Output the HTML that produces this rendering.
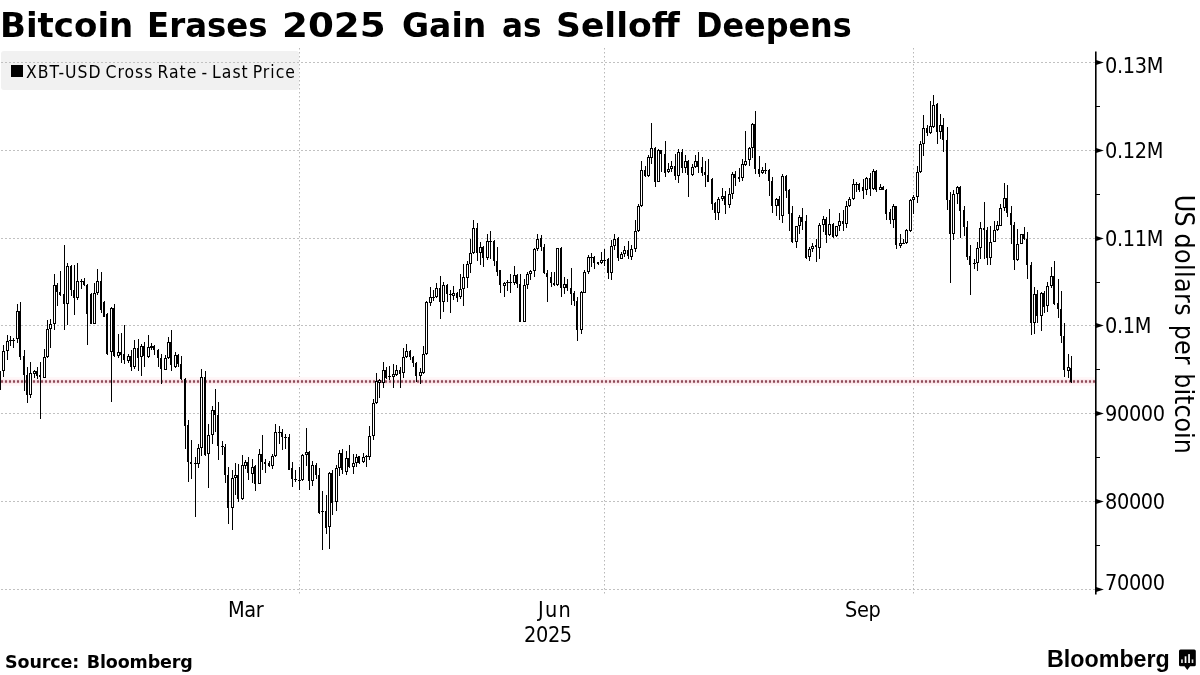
<!DOCTYPE html>
<html lang="en"><head><meta charset="utf-8"><title>Bitcoin Erases 2025 Gain as Selloff Deepens</title>
<style>
html,body{margin:0;padding:0;background:#fff;}
body{width:1200px;height:675px;overflow:hidden;position:relative;font-family:"DejaVu Sans","Liberation Sans",sans-serif;color:#000;}
#title{position:absolute;left:0;top:5px;width:1200px;height:40px;font-size:34.3px;font-weight:bold;white-space:nowrap;line-height:40px;margin:0;}
#title span{position:absolute;top:0;transform-origin:0 50%;display:block;}
#legend{position:absolute;left:1px;top:51px;width:298px;height:39px;background:#f1f1f1;border-radius:3px;}
#legend .sw{position:absolute;left:10px;top:14px;width:12px;height:12px;background:#000;}
#legend .tx{position:absolute;left:25px;top:9px;font-size:17.4px;line-height:24px;white-space:nowrap;color:#000;font-family:"DejaVu Sans Condensed","DejaVu Sans",sans-serif;letter-spacing:1px;word-spacing:-1.9px;}
#source{position:absolute;left:5px;top:651.5px;font-size:17.5px;font-weight:bold;line-height:20px;white-space:nowrap;word-spacing:1.6px;letter-spacing:-0.12px;}
#brand{position:absolute;left:1047.1px;top:646.1px;font-size:24.2px;font-weight:bold;line-height:26px;white-space:nowrap;font-family:"Liberation Sans",sans-serif;transform-origin:0 50%;transform:scaleX(0.962);}
svg{position:absolute;left:0;top:0;}
svg text{font-family:"DejaVu Sans Condensed","DejaVu Sans",sans-serif;fill:#000;}
</style></head><body>
<div id="legend"><span class="sw"></span><span class="tx">XBT-USD Cross Rate - Last Price</span></div>
<svg width="1200" height="675" viewBox="0 0 1200 675">
<g stroke="#c1c1c1" stroke-width="1" fill="none">
<g stroke-dasharray="2 2" shape-rendering="crispEdges"><line x1="1" y1="62.5" x2="1095" y2="62.5"/><line x1="1" y1="150.5" x2="1095" y2="150.5"/><line x1="1" y1="238.5" x2="1095" y2="238.5"/><line x1="1" y1="325.5" x2="1095" y2="325.5"/><line x1="1" y1="413.5" x2="1095" y2="413.5"/><line x1="1" y1="501.5" x2="1095" y2="501.5"/><line x1="1" y1="589.5" x2="1095" y2="589.5"/></g>
<g stroke-dasharray="1.5 2.5" stroke="#b8b8b8"><line x1="299.5" y1="48" x2="299.5" y2="594"/><line x1="604.5" y1="48" x2="604.5" y2="594"/><line x1="913.5" y1="48" x2="913.5" y2="594"/></g>
</g>
<rect x="0" y="377" width="1095" height="9" fill="#fff7f8"/>
<rect x="0" y="379" width="1095" height="5" fill="#fdecef"/>
<line x1="0.9" y1="381.4" x2="1095" y2="381.4" stroke="#8e4a58" stroke-width="2.5" stroke-dasharray="2.2 1.8"/>
<g shape-rendering="crispEdges" fill="#000">
<rect x="0" y="371" width="1" height="19"/><rect x="3" y="345" width="1" height="32"/><rect x="7" y="335" width="1" height="25"/><rect x="10" y="336" width="1" height="10"/><rect x="13" y="338" width="1" height="10"/><rect x="17" y="304" width="1" height="39"/><rect x="20" y="302" width="1" height="58"/><rect x="24" y="350" width="1" height="41"/><rect x="27" y="367" width="1" height="36"/><rect x="30" y="362" width="1" height="36"/><rect x="34" y="370" width="1" height="8"/><rect x="37" y="367" width="1" height="12"/><rect x="40" y="362" width="1" height="57"/><rect x="44" y="349" width="1" height="29"/><rect x="47" y="320" width="1" height="38"/><rect x="50" y="319" width="1" height="29"/><rect x="54" y="274" width="1" height="56"/><rect x="57" y="283" width="1" height="23"/><rect x="60" y="271" width="1" height="25"/><rect x="64" y="245" width="1" height="85"/><rect x="67" y="263" width="1" height="62"/><rect x="71" y="265" width="1" height="31"/><rect x="74" y="265" width="1" height="50"/><rect x="77" y="263" width="1" height="37"/><rect x="81" y="279" width="1" height="10"/><rect x="84" y="278" width="1" height="8"/><rect x="87" y="284" width="1" height="61"/><rect x="91" y="293" width="1" height="31"/><rect x="94" y="283" width="1" height="41"/><rect x="97" y="269" width="1" height="26"/><rect x="101" y="272" width="1" height="41"/><rect x="104" y="301" width="1" height="16"/><rect x="107" y="313" width="1" height="42"/><rect x="111" y="307" width="1" height="95"/><rect x="114" y="304" width="1" height="53"/><rect x="118" y="334" width="1" height="24"/><rect x="121" y="333" width="1" height="30"/><rect x="124" y="325" width="1" height="39"/><rect x="128" y="354" width="1" height="9"/><rect x="131" y="350" width="1" height="21"/><rect x="134" y="340" width="1" height="29"/><rect x="138" y="339" width="1" height="32"/><rect x="141" y="344" width="1" height="32"/><rect x="144" y="342" width="1" height="25"/><rect x="148" y="335" width="1" height="23"/><rect x="151" y="343" width="1" height="7"/><rect x="154" y="345" width="1" height="10"/><rect x="158" y="349" width="1" height="18"/><rect x="161" y="354" width="1" height="30"/><rect x="165" y="355" width="1" height="15"/><rect x="168" y="337" width="1" height="22"/><rect x="171" y="330" width="1" height="41"/><rect x="175" y="352" width="1" height="16"/><rect x="178" y="354" width="1" height="13"/><rect x="181" y="356" width="1" height="24"/><rect x="185" y="378" width="1" height="71"/><rect x="188" y="420" width="1" height="62"/><rect x="191" y="440" width="1" height="39"/><rect x="195" y="457" width="1" height="60"/><rect x="198" y="444" width="1" height="24"/><rect x="201" y="369" width="1" height="87"/><rect x="205" y="371" width="1" height="85"/><rect x="208" y="424" width="1" height="64"/><rect x="212" y="406" width="1" height="38"/><rect x="215" y="389" width="1" height="43"/><rect x="218" y="402" width="1" height="58"/><rect x="222" y="441" width="1" height="14"/><rect x="225" y="444" width="1" height="39"/><rect x="228" y="467" width="1" height="57"/><rect x="232" y="470" width="1" height="60"/><rect x="235" y="463" width="1" height="32"/><rect x="238" y="464" width="1" height="38"/><rect x="242" y="455" width="1" height="45"/><rect x="245" y="460" width="1" height="9"/><rect x="248" y="457" width="1" height="23"/><rect x="252" y="459" width="1" height="24"/><rect x="255" y="465" width="1" height="26"/><rect x="259" y="449" width="1" height="35"/><rect x="262" y="435" width="1" height="35"/><rect x="265" y="459" width="1" height="14"/><rect x="269" y="461" width="1" height="6"/><rect x="272" y="454" width="1" height="15"/><rect x="275" y="424" width="1" height="33"/><rect x="279" y="426" width="1" height="18"/><rect x="282" y="429" width="1" height="21"/><rect x="285" y="434" width="1" height="15"/><rect x="289" y="434" width="1" height="36"/><rect x="292" y="462" width="1" height="25"/><rect x="295" y="470" width="1" height="12"/><rect x="299" y="467" width="1" height="23"/><rect x="302" y="454" width="1" height="27"/><rect x="306" y="428" width="1" height="38"/><rect x="309" y="451" width="1" height="39"/><rect x="312" y="461" width="1" height="25"/><rect x="316" y="463" width="1" height="16"/><rect x="319" y="468" width="1" height="46"/><rect x="322" y="491" width="1" height="59"/><rect x="326" y="495" width="1" height="39"/><rect x="329" y="472" width="1" height="77"/><rect x="332" y="470" width="1" height="45"/><rect x="336" y="465" width="1" height="46"/><rect x="339" y="450" width="1" height="26"/><rect x="342" y="449" width="1" height="25"/><rect x="346" y="451" width="1" height="24"/><rect x="349" y="445" width="1" height="23"/><rect x="353" y="454" width="1" height="20"/><rect x="356" y="454" width="1" height="13"/><rect x="359" y="456" width="1" height="8"/><rect x="363" y="453" width="1" height="10"/><rect x="366" y="455" width="1" height="12"/><rect x="369" y="426" width="1" height="34"/><rect x="373" y="399" width="1" height="41"/><rect x="376" y="373" width="1" height="31"/><rect x="379" y="379" width="1" height="19"/><rect x="383" y="362" width="1" height="26"/><rect x="386" y="367" width="1" height="12"/><rect x="389" y="366" width="1" height="14"/><rect x="393" y="364" width="1" height="24"/><rect x="396" y="365" width="1" height="11"/><rect x="400" y="367" width="1" height="21"/><rect x="403" y="348" width="1" height="30"/><rect x="406" y="344" width="1" height="14"/><rect x="410" y="350" width="1" height="10"/><rect x="413" y="356" width="1" height="11"/><rect x="416" y="362" width="1" height="20"/><rect x="420" y="368" width="1" height="16"/><rect x="423" y="346" width="1" height="28"/><rect x="426" y="301" width="1" height="54"/><rect x="430" y="287" width="1" height="19"/><rect x="433" y="290" width="1" height="11"/><rect x="436" y="283" width="1" height="15"/><rect x="440" y="276" width="1" height="43"/><rect x="443" y="282" width="1" height="30"/><rect x="447" y="284" width="1" height="18"/><rect x="450" y="290" width="1" height="23"/><rect x="453" y="286" width="1" height="14"/><rect x="457" y="292" width="1" height="10"/><rect x="460" y="274" width="1" height="25"/><rect x="463" y="264" width="1" height="42"/><rect x="467" y="261" width="1" height="27"/><rect x="470" y="239" width="1" height="34"/><rect x="473" y="220" width="1" height="34"/><rect x="477" y="223" width="1" height="38"/><rect x="480" y="242" width="1" height="23"/><rect x="483" y="246" width="1" height="21"/><rect x="487" y="234" width="1" height="26"/><rect x="490" y="231" width="1" height="28"/><rect x="494" y="240" width="1" height="26"/><rect x="497" y="247" width="1" height="29"/><rect x="500" y="270" width="1" height="23"/><rect x="504" y="282" width="1" height="15"/><rect x="507" y="280" width="1" height="11"/><rect x="510" y="274" width="1" height="19"/><rect x="514" y="266" width="1" height="19"/><rect x="517" y="274" width="1" height="14"/><rect x="520" y="274" width="1" height="48"/><rect x="524" y="279" width="1" height="43"/><rect x="527" y="272" width="1" height="17"/><rect x="530" y="270" width="1" height="10"/><rect x="534" y="248" width="1" height="29"/><rect x="537" y="234" width="1" height="17"/><rect x="541" y="235" width="1" height="16"/><rect x="544" y="244" width="1" height="30"/><rect x="547" y="270" width="1" height="32"/><rect x="551" y="272" width="1" height="15"/><rect x="554" y="272" width="1" height="14"/><rect x="557" y="248" width="1" height="38"/><rect x="561" y="247" width="1" height="50"/><rect x="564" y="277" width="1" height="17"/><rect x="567" y="279" width="1" height="12"/><rect x="571" y="268" width="1" height="37"/><rect x="574" y="291" width="1" height="15"/><rect x="577" y="297" width="1" height="44"/><rect x="581" y="291" width="1" height="43"/><rect x="584" y="270" width="1" height="23"/><rect x="588" y="255" width="1" height="19"/><rect x="591" y="253" width="1" height="14"/><rect x="594" y="256" width="1" height="13"/><rect x="598" y="262" width="1" height="3"/><rect x="601" y="252" width="1" height="12"/><rect x="604" y="249" width="1" height="17"/><rect x="608" y="258" width="1" height="21"/><rect x="611" y="240" width="1" height="40"/><rect x="614" y="234" width="1" height="16"/><rect x="618" y="237" width="1" height="24"/><rect x="621" y="252" width="1" height="7"/><rect x="624" y="246" width="1" height="11"/><rect x="628" y="241" width="1" height="18"/><rect x="631" y="245" width="1" height="15"/><rect x="635" y="220" width="1" height="32"/><rect x="638" y="204" width="1" height="28"/><rect x="641" y="161" width="1" height="46"/><rect x="645" y="166" width="1" height="11"/><rect x="648" y="155" width="1" height="22"/><rect x="651" y="123" width="1" height="41"/><rect x="655" y="147" width="1" height="40"/><rect x="658" y="149" width="1" height="33"/><rect x="661" y="150" width="1" height="22"/><rect x="665" y="141" width="1" height="36"/><rect x="668" y="163" width="1" height="10"/><rect x="671" y="161" width="1" height="11"/><rect x="675" y="154" width="1" height="26"/><rect x="678" y="149" width="1" height="34"/><rect x="682" y="149" width="1" height="24"/><rect x="685" y="155" width="1" height="18"/><rect x="688" y="160" width="1" height="37"/><rect x="692" y="164" width="1" height="12"/><rect x="695" y="155" width="1" height="13"/><rect x="698" y="152" width="1" height="21"/><rect x="702" y="157" width="1" height="19"/><rect x="705" y="161" width="1" height="26"/><rect x="708" y="159" width="1" height="23"/><rect x="712" y="178" width="1" height="32"/><rect x="715" y="202" width="1" height="18"/><rect x="718" y="197" width="1" height="23"/><rect x="722" y="188" width="1" height="13"/><rect x="725" y="191" width="1" height="23"/><rect x="729" y="188" width="1" height="20"/><rect x="732" y="172" width="1" height="27"/><rect x="735" y="171" width="1" height="15"/><rect x="739" y="168" width="1" height="14"/><rect x="742" y="159" width="1" height="22"/><rect x="745" y="131" width="1" height="35"/><rect x="749" y="147" width="1" height="19"/><rect x="752" y="123" width="1" height="35"/><rect x="755" y="111" width="1" height="63"/><rect x="759" y="156" width="1" height="21"/><rect x="762" y="167" width="1" height="7"/><rect x="765" y="163" width="1" height="11"/><rect x="769" y="169" width="1" height="27"/><rect x="772" y="177" width="1" height="36"/><rect x="776" y="198" width="1" height="18"/><rect x="779" y="196" width="1" height="24"/><rect x="782" y="174" width="1" height="49"/><rect x="786" y="175" width="1" height="23"/><rect x="789" y="189" width="1" height="42"/><rect x="792" y="206" width="1" height="37"/><rect x="796" y="226" width="1" height="22"/><rect x="799" y="215" width="1" height="19"/><rect x="802" y="208" width="1" height="22"/><rect x="806" y="215" width="1" height="44"/><rect x="809" y="247" width="1" height="14"/><rect x="812" y="243" width="1" height="9"/><rect x="816" y="239" width="1" height="23"/><rect x="819" y="223" width="1" height="36"/><rect x="823" y="216" width="1" height="16"/><rect x="826" y="217" width="1" height="26"/><rect x="829" y="209" width="1" height="27"/><rect x="833" y="223" width="1" height="15"/><rect x="836" y="226" width="1" height="11"/><rect x="839" y="213" width="1" height="18"/><rect x="843" y="210" width="1" height="21"/><rect x="846" y="201" width="1" height="27"/><rect x="849" y="197" width="1" height="10"/><rect x="853" y="179" width="1" height="21"/><rect x="856" y="182" width="1" height="10"/><rect x="859" y="183" width="1" height="9"/><rect x="863" y="179" width="1" height="20"/><rect x="866" y="177" width="1" height="18"/><rect x="870" y="173" width="1" height="23"/><rect x="873" y="169" width="1" height="21"/><rect x="876" y="170" width="1" height="22"/><rect x="880" y="184" width="1" height="6"/><rect x="883" y="186" width="1" height="4"/><rect x="886" y="189" width="1" height="31"/><rect x="890" y="209" width="1" height="15"/><rect x="893" y="204" width="1" height="24"/><rect x="896" y="206" width="1" height="43"/><rect x="900" y="234" width="1" height="14"/><rect x="903" y="239" width="1" height="5"/><rect x="906" y="229" width="1" height="15"/><rect x="910" y="199" width="1" height="33"/><rect x="913" y="195" width="1" height="19"/><rect x="917" y="166" width="1" height="37"/><rect x="920" y="141" width="1" height="32"/><rect x="923" y="115" width="1" height="41"/><rect x="927" y="125" width="1" height="11"/><rect x="930" y="101" width="1" height="33"/><rect x="933" y="95" width="1" height="33"/><rect x="937" y="103" width="1" height="41"/><rect x="940" y="114" width="1" height="25"/><rect x="943" y="118" width="1" height="34"/><rect x="947" y="127" width="1" height="83"/><rect x="950" y="192" width="1" height="91"/><rect x="953" y="190" width="1" height="50"/><rect x="957" y="186" width="1" height="18"/><rect x="960" y="186" width="1" height="52"/><rect x="964" y="206" width="1" height="30"/><rect x="967" y="221" width="1" height="39"/><rect x="970" y="245" width="1" height="50"/><rect x="974" y="259" width="1" height="10"/><rect x="977" y="242" width="1" height="29"/><rect x="980" y="222" width="1" height="37"/><rect x="984" y="202" width="1" height="57"/><rect x="987" y="227" width="1" height="38"/><rect x="990" y="226" width="1" height="39"/><rect x="994" y="221" width="1" height="21"/><rect x="997" y="221" width="1" height="10"/><rect x="1000" y="204" width="1" height="22"/><rect x="1004" y="183" width="1" height="28"/><rect x="1007" y="185" width="1" height="32"/><rect x="1011" y="206" width="1" height="38"/><rect x="1014" y="222" width="1" height="48"/><rect x="1017" y="229" width="1" height="32"/><rect x="1021" y="234" width="1" height="10"/><rect x="1024" y="227" width="1" height="13"/><rect x="1027" y="232" width="1" height="47"/><rect x="1031" y="262" width="1" height="73"/><rect x="1034" y="287" width="1" height="47"/><rect x="1037" y="290" width="1" height="33"/><rect x="1041" y="292" width="1" height="39"/><rect x="1044" y="291" width="1" height="22"/><rect x="1047" y="282" width="1" height="30"/><rect x="1051" y="267" width="1" height="21"/><rect x="1054" y="261" width="1" height="44"/><rect x="1058" y="279" width="1" height="39"/><rect x="1061" y="291" width="1" height="52"/><rect x="1064" y="323" width="1" height="54"/><rect x="1068" y="354" width="1" height="24"/><rect x="1071" y="356" width="1" height="27"/>
<rect x="-1" y="371" width="2" height="17"/><rect x="2" y="351" width="3" height="20"/><rect x="6" y="341" width="3" height="10"/><rect x="9" y="340" width="3" height="1"/><rect x="12" y="340" width="3" height="1"/><rect x="16" y="311" width="3" height="28"/><rect x="19" y="311" width="2" height="46"/><rect x="23" y="356" width="2" height="19"/><rect x="26" y="375" width="2" height="20"/><rect x="29" y="373" width="3" height="22"/><rect x="33" y="371" width="3" height="3"/><rect x="36" y="371" width="2" height="5"/><rect x="39" y="375" width="2" height="2"/><rect x="43" y="357" width="3" height="21"/><rect x="46" y="329" width="3" height="28"/><rect x="49" y="324" width="3" height="5"/><rect x="53" y="285" width="3" height="39"/><rect x="56" y="285" width="2" height="7"/><rect x="59" y="292" width="2" height="3"/><rect x="63" y="294" width="2" height="10"/><rect x="66" y="266" width="3" height="38"/><rect x="70" y="266" width="2" height="24"/><rect x="73" y="290" width="2" height="8"/><rect x="76" y="281" width="3" height="17"/><rect x="80" y="281" width="3" height="1"/><rect x="83" y="281" width="2" height="4"/><rect x="86" y="285" width="2" height="29"/><rect x="90" y="294" width="2" height="30"/><rect x="93" y="293" width="3" height="31"/><rect x="96" y="281" width="3" height="12"/><rect x="100" y="281" width="2" height="29"/><rect x="103" y="302" width="2" height="15"/><rect x="106" y="314" width="2" height="40"/><rect x="110" y="308" width="3" height="44"/><rect x="113" y="308" width="2" height="48"/><rect x="117" y="352" width="3" height="4"/><rect x="120" y="352" width="2" height="3"/><rect x="123" y="354" width="2" height="6"/><rect x="127" y="356" width="3" height="5"/><rect x="130" y="356" width="2" height="11"/><rect x="133" y="348" width="3" height="19"/><rect x="137" y="348" width="2" height="10"/><rect x="140" y="346" width="3" height="11"/><rect x="143" y="346" width="2" height="10"/><rect x="147" y="347" width="3" height="10"/><rect x="150" y="346" width="3" height="2"/><rect x="153" y="346" width="2" height="4"/><rect x="157" y="350" width="2" height="8"/><rect x="160" y="358" width="2" height="11"/><rect x="164" y="358" width="3" height="12"/><rect x="167" y="342" width="3" height="16"/><rect x="170" y="342" width="2" height="23"/><rect x="174" y="355" width="3" height="12"/><rect x="177" y="355" width="2" height="9"/><rect x="180" y="364" width="2" height="15"/><rect x="184" y="379" width="2" height="47"/><rect x="187" y="425" width="2" height="37"/><rect x="190" y="462" width="2" height="2"/><rect x="194" y="463" width="3" height="1"/><rect x="197" y="448" width="3" height="16"/><rect x="200" y="377" width="3" height="71"/><rect x="204" y="377" width="2" height="78"/><rect x="207" y="435" width="3" height="19"/><rect x="211" y="410" width="3" height="25"/><rect x="214" y="410" width="2" height="5"/><rect x="217" y="415" width="2" height="31"/><rect x="221" y="446" width="3" height="1"/><rect x="224" y="447" width="2" height="28"/><rect x="227" y="475" width="2" height="33"/><rect x="231" y="478" width="3" height="30"/><rect x="234" y="475" width="3" height="3"/><rect x="237" y="475" width="2" height="24"/><rect x="241" y="465" width="3" height="34"/><rect x="244" y="462" width="3" height="4"/><rect x="247" y="462" width="2" height="11"/><rect x="251" y="467" width="3" height="7"/><rect x="254" y="466" width="2" height="18"/><rect x="258" y="454" width="3" height="30"/><rect x="261" y="454" width="2" height="8"/><rect x="264" y="462" width="2" height="2"/><rect x="268" y="463" width="2" height="3"/><rect x="271" y="456" width="3" height="10"/><rect x="274" y="432" width="3" height="24"/><rect x="278" y="432" width="3" height="1"/><rect x="281" y="432" width="2" height="5"/><rect x="284" y="437" width="3" height="1"/><rect x="288" y="437" width="2" height="33"/><rect x="291" y="468" width="2" height="11"/><rect x="294" y="479" width="3" height="1"/><rect x="298" y="480" width="3" height="1"/><rect x="301" y="455" width="3" height="25"/><rect x="305" y="452" width="3" height="3"/><rect x="308" y="452" width="2" height="29"/><rect x="311" y="465" width="3" height="16"/><rect x="315" y="465" width="2" height="10"/><rect x="318" y="475" width="2" height="38"/><rect x="321" y="511" width="3" height="1"/><rect x="325" y="511" width="2" height="17"/><rect x="328" y="473" width="3" height="54"/><rect x="331" y="473" width="2" height="30"/><rect x="335" y="468" width="3" height="34"/><rect x="338" y="453" width="3" height="15"/><rect x="341" y="453" width="2" height="17"/><rect x="345" y="458" width="3" height="14"/><rect x="348" y="458" width="2" height="9"/><rect x="352" y="463" width="3" height="4"/><rect x="355" y="457" width="3" height="6"/><rect x="358" y="456" width="2" height="7"/><rect x="362" y="457" width="3" height="5"/><rect x="365" y="456" width="3" height="1"/><rect x="368" y="436" width="3" height="21"/><rect x="372" y="403" width="3" height="33"/><rect x="375" y="381" width="3" height="22"/><rect x="378" y="380" width="3" height="3"/><rect x="382" y="370" width="3" height="13"/><rect x="385" y="370" width="2" height="8"/><rect x="388" y="376" width="3" height="1"/><rect x="392" y="374" width="3" height="3"/><rect x="395" y="370" width="3" height="5"/><rect x="399" y="370" width="2" height="4"/><rect x="402" y="357" width="3" height="16"/><rect x="405" y="351" width="3" height="6"/><rect x="409" y="351" width="2" height="6"/><rect x="412" y="357" width="2" height="6"/><rect x="415" y="363" width="2" height="13"/><rect x="419" y="372" width="3" height="4"/><rect x="422" y="354" width="3" height="19"/><rect x="425" y="302" width="3" height="52"/><rect x="429" y="297" width="3" height="6"/><rect x="432" y="297" width="3" height="1"/><rect x="435" y="288" width="3" height="9"/><rect x="439" y="288" width="2" height="14"/><rect x="442" y="285" width="3" height="17"/><rect x="446" y="285" width="2" height="9"/><rect x="449" y="294" width="3" height="1"/><rect x="452" y="293" width="3" height="3"/><rect x="456" y="293" width="2" height="5"/><rect x="459" y="289" width="3" height="8"/><rect x="462" y="277" width="3" height="12"/><rect x="466" y="264" width="3" height="14"/><rect x="469" y="253" width="3" height="11"/><rect x="472" y="228" width="3" height="25"/><rect x="476" y="228" width="2" height="25"/><rect x="479" y="247" width="3" height="6"/><rect x="482" y="247" width="2" height="11"/><rect x="486" y="241" width="3" height="17"/><rect x="489" y="241" width="3" height="1"/><rect x="493" y="241" width="2" height="20"/><rect x="496" y="261" width="2" height="11"/><rect x="499" y="270" width="2" height="15"/><rect x="503" y="283" width="3" height="3"/><rect x="506" y="282" width="3" height="1"/><rect x="509" y="282" width="3" height="1"/><rect x="513" y="275" width="3" height="8"/><rect x="516" y="275" width="2" height="9"/><rect x="519" y="284" width="2" height="38"/><rect x="523" y="285" width="3" height="37"/><rect x="526" y="274" width="3" height="11"/><rect x="529" y="271" width="3" height="3"/><rect x="533" y="249" width="3" height="22"/><rect x="536" y="239" width="3" height="10"/><rect x="540" y="238" width="2" height="9"/><rect x="543" y="247" width="2" height="26"/><rect x="546" y="273" width="2" height="4"/><rect x="550" y="277" width="2" height="6"/><rect x="553" y="283" width="2" height="2"/><rect x="556" y="248" width="3" height="37"/><rect x="560" y="248" width="2" height="40"/><rect x="563" y="284" width="3" height="4"/><rect x="566" y="284" width="2" height="4"/><rect x="570" y="288" width="2" height="6"/><rect x="573" y="293" width="2" height="8"/><rect x="576" y="301" width="2" height="29"/><rect x="580" y="292" width="3" height="38"/><rect x="583" y="272" width="3" height="21"/><rect x="587" y="257" width="3" height="15"/><rect x="590" y="257" width="3" height="1"/><rect x="593" y="257" width="2" height="6"/><rect x="597" y="262" width="2" height="2"/><rect x="600" y="260" width="3" height="3"/><rect x="603" y="260" width="3" height="1"/><rect x="607" y="259" width="2" height="14"/><rect x="610" y="246" width="3" height="27"/><rect x="613" y="239" width="3" height="7"/><rect x="617" y="238" width="2" height="20"/><rect x="620" y="254" width="3" height="5"/><rect x="623" y="250" width="3" height="4"/><rect x="627" y="250" width="2" height="6"/><rect x="630" y="249" width="3" height="8"/><rect x="634" y="231" width="3" height="18"/><rect x="637" y="206" width="3" height="25"/><rect x="640" y="170" width="3" height="36"/><rect x="644" y="170" width="2" height="6"/><rect x="647" y="157" width="3" height="19"/><rect x="650" y="148" width="3" height="10"/><rect x="654" y="148" width="2" height="34"/><rect x="657" y="150" width="3" height="32"/><rect x="660" y="150" width="2" height="4"/><rect x="664" y="154" width="2" height="19"/><rect x="667" y="169" width="3" height="3"/><rect x="670" y="166" width="3" height="3"/><rect x="674" y="166" width="2" height="10"/><rect x="677" y="152" width="3" height="24"/><rect x="681" y="152" width="2" height="16"/><rect x="684" y="161" width="3" height="7"/><rect x="687" y="161" width="2" height="14"/><rect x="691" y="167" width="3" height="8"/><rect x="694" y="161" width="3" height="6"/><rect x="697" y="161" width="2" height="6"/><rect x="701" y="167" width="2" height="6"/><rect x="704" y="172" width="2" height="3"/><rect x="707" y="175" width="2" height="7"/><rect x="711" y="179" width="2" height="25"/><rect x="714" y="203" width="2" height="10"/><rect x="717" y="199" width="3" height="14"/><rect x="721" y="196" width="3" height="3"/><rect x="724" y="196" width="2" height="9"/><rect x="728" y="194" width="3" height="11"/><rect x="731" y="174" width="3" height="20"/><rect x="734" y="174" width="2" height="4"/><rect x="738" y="177" width="2" height="2"/><rect x="741" y="164" width="3" height="14"/><rect x="744" y="161" width="3" height="4"/><rect x="748" y="148" width="3" height="12"/><rect x="751" y="124" width="3" height="24"/><rect x="754" y="124" width="2" height="45"/><rect x="758" y="169" width="2" height="5"/><rect x="761" y="170" width="3" height="3"/><rect x="764" y="170" width="3" height="1"/><rect x="768" y="170" width="2" height="11"/><rect x="771" y="181" width="2" height="25"/><rect x="775" y="199" width="3" height="7"/><rect x="778" y="199" width="2" height="7"/><rect x="781" y="176" width="3" height="40"/><rect x="785" y="176" width="2" height="15"/><rect x="788" y="190" width="2" height="24"/><rect x="791" y="213" width="2" height="29"/><rect x="795" y="226" width="3" height="16"/><rect x="798" y="217" width="3" height="9"/><rect x="801" y="217" width="2" height="5"/><rect x="805" y="221" width="2" height="37"/><rect x="808" y="249" width="3" height="8"/><rect x="811" y="246" width="3" height="3"/><rect x="815" y="245" width="2" height="2"/><rect x="818" y="225" width="3" height="23"/><rect x="822" y="219" width="3" height="6"/><rect x="825" y="219" width="2" height="16"/><rect x="828" y="224" width="3" height="11"/><rect x="832" y="224" width="2" height="13"/><rect x="835" y="226" width="3" height="10"/><rect x="838" y="221" width="3" height="5"/><rect x="842" y="221" width="2" height="3"/><rect x="845" y="206" width="3" height="18"/><rect x="848" y="199" width="3" height="7"/><rect x="852" y="184" width="3" height="15"/><rect x="855" y="184" width="3" height="1"/><rect x="858" y="184" width="2" height="6"/><rect x="862" y="187" width="2" height="4"/><rect x="865" y="178" width="3" height="12"/><rect x="869" y="178" width="2" height="11"/><rect x="872" y="171" width="3" height="18"/><rect x="875" y="171" width="2" height="19"/><rect x="879" y="187" width="3" height="3"/><rect x="882" y="187" width="2" height="3"/><rect x="885" y="190" width="2" height="24"/><rect x="889" y="212" width="2" height="8"/><rect x="892" y="206" width="3" height="14"/><rect x="895" y="206" width="2" height="39"/><rect x="899" y="243" width="3" height="3"/><rect x="902" y="243" width="3" height="1"/><rect x="905" y="230" width="3" height="13"/><rect x="909" y="200" width="3" height="31"/><rect x="912" y="197" width="3" height="3"/><rect x="916" y="172" width="3" height="25"/><rect x="919" y="144" width="3" height="28"/><rect x="922" y="128" width="3" height="16"/><rect x="926" y="128" width="2" height="5"/><rect x="929" y="126" width="3" height="7"/><rect x="932" y="105" width="3" height="22"/><rect x="936" y="104" width="2" height="28"/><rect x="939" y="125" width="3" height="7"/><rect x="942" y="125" width="2" height="15"/><rect x="946" y="140" width="2" height="60"/><rect x="949" y="200" width="2" height="34"/><rect x="952" y="194" width="3" height="40"/><rect x="956" y="187" width="3" height="7"/><rect x="959" y="187" width="2" height="24"/><rect x="963" y="210" width="2" height="17"/><rect x="966" y="227" width="2" height="30"/><rect x="969" y="256" width="2" height="9"/><rect x="973" y="263" width="3" height="1"/><rect x="976" y="248" width="3" height="15"/><rect x="979" y="228" width="3" height="20"/><rect x="983" y="228" width="2" height="2"/><rect x="986" y="230" width="2" height="28"/><rect x="989" y="242" width="3" height="16"/><rect x="993" y="230" width="3" height="12"/><rect x="996" y="225" width="3" height="5"/><rect x="999" y="208" width="3" height="18"/><rect x="1003" y="198" width="3" height="10"/><rect x="1006" y="198" width="2" height="15"/><rect x="1010" y="213" width="2" height="12"/><rect x="1013" y="225" width="2" height="35"/><rect x="1016" y="244" width="3" height="16"/><rect x="1020" y="234" width="3" height="10"/><rect x="1023" y="234" width="2" height="5"/><rect x="1026" y="239" width="2" height="26"/><rect x="1030" y="265" width="2" height="58"/><rect x="1033" y="294" width="3" height="29"/><rect x="1036" y="294" width="2" height="22"/><rect x="1040" y="293" width="3" height="23"/><rect x="1043" y="293" width="2" height="14"/><rect x="1046" y="286" width="3" height="20"/><rect x="1050" y="276" width="3" height="10"/><rect x="1053" y="276" width="2" height="28"/><rect x="1057" y="303" width="2" height="6"/><rect x="1060" y="309" width="2" height="27"/><rect x="1063" y="336" width="2" height="34"/><rect x="1067" y="367" width="3" height="4"/><rect x="1070" y="368" width="2" height="14"/>
</g>
<g shape-rendering="crispEdges" fill="#fff">
<rect x="3" y="352" width="1" height="18"/><rect x="7" y="342" width="1" height="8"/><rect x="17" y="312" width="1" height="26"/><rect x="30" y="374" width="1" height="20"/><rect x="34" y="372" width="1" height="1"/><rect x="44" y="358" width="1" height="19"/><rect x="47" y="330" width="1" height="26"/><rect x="50" y="325" width="1" height="3"/><rect x="54" y="286" width="1" height="37"/><rect x="67" y="267" width="1" height="36"/><rect x="77" y="282" width="1" height="15"/><rect x="94" y="294" width="1" height="29"/><rect x="97" y="282" width="1" height="10"/><rect x="111" y="309" width="1" height="42"/><rect x="118" y="353" width="1" height="2"/><rect x="128" y="357" width="1" height="3"/><rect x="134" y="349" width="1" height="17"/><rect x="141" y="347" width="1" height="9"/><rect x="148" y="348" width="1" height="8"/><rect x="165" y="359" width="1" height="10"/><rect x="168" y="343" width="1" height="14"/><rect x="175" y="356" width="1" height="10"/><rect x="198" y="449" width="1" height="14"/><rect x="201" y="378" width="1" height="69"/><rect x="208" y="436" width="1" height="17"/><rect x="212" y="411" width="1" height="23"/><rect x="232" y="479" width="1" height="28"/><rect x="235" y="476" width="1" height="1"/><rect x="242" y="466" width="1" height="32"/><rect x="245" y="463" width="1" height="2"/><rect x="252" y="468" width="1" height="5"/><rect x="259" y="455" width="1" height="28"/><rect x="272" y="457" width="1" height="8"/><rect x="275" y="433" width="1" height="22"/><rect x="302" y="456" width="1" height="23"/><rect x="306" y="453" width="1" height="1"/><rect x="312" y="466" width="1" height="14"/><rect x="329" y="474" width="1" height="52"/><rect x="336" y="469" width="1" height="32"/><rect x="339" y="454" width="1" height="13"/><rect x="346" y="459" width="1" height="12"/><rect x="353" y="464" width="1" height="2"/><rect x="356" y="458" width="1" height="4"/><rect x="363" y="458" width="1" height="3"/><rect x="369" y="437" width="1" height="19"/><rect x="373" y="404" width="1" height="31"/><rect x="376" y="382" width="1" height="20"/><rect x="379" y="381" width="1" height="1"/><rect x="383" y="371" width="1" height="11"/><rect x="393" y="375" width="1" height="1"/><rect x="396" y="371" width="1" height="3"/><rect x="403" y="358" width="1" height="14"/><rect x="406" y="352" width="1" height="4"/><rect x="420" y="373" width="1" height="2"/><rect x="423" y="355" width="1" height="17"/><rect x="426" y="303" width="1" height="50"/><rect x="430" y="298" width="1" height="4"/><rect x="436" y="289" width="1" height="7"/><rect x="443" y="286" width="1" height="15"/><rect x="453" y="294" width="1" height="1"/><rect x="460" y="290" width="1" height="6"/><rect x="463" y="278" width="1" height="10"/><rect x="467" y="265" width="1" height="12"/><rect x="470" y="254" width="1" height="9"/><rect x="473" y="229" width="1" height="23"/><rect x="480" y="248" width="1" height="4"/><rect x="487" y="242" width="1" height="15"/><rect x="504" y="284" width="1" height="1"/><rect x="514" y="276" width="1" height="6"/><rect x="524" y="286" width="1" height="35"/><rect x="527" y="275" width="1" height="9"/><rect x="530" y="272" width="1" height="1"/><rect x="534" y="250" width="1" height="20"/><rect x="537" y="240" width="1" height="8"/><rect x="557" y="249" width="1" height="35"/><rect x="564" y="285" width="1" height="2"/><rect x="581" y="293" width="1" height="36"/><rect x="584" y="273" width="1" height="19"/><rect x="588" y="258" width="1" height="13"/><rect x="601" y="261" width="1" height="1"/><rect x="611" y="247" width="1" height="25"/><rect x="614" y="240" width="1" height="5"/><rect x="621" y="255" width="1" height="3"/><rect x="624" y="251" width="1" height="2"/><rect x="631" y="250" width="1" height="6"/><rect x="635" y="232" width="1" height="16"/><rect x="638" y="207" width="1" height="23"/><rect x="641" y="171" width="1" height="34"/><rect x="648" y="158" width="1" height="17"/><rect x="651" y="149" width="1" height="8"/><rect x="658" y="151" width="1" height="30"/><rect x="668" y="170" width="1" height="1"/><rect x="671" y="167" width="1" height="1"/><rect x="678" y="153" width="1" height="22"/><rect x="685" y="162" width="1" height="5"/><rect x="692" y="168" width="1" height="6"/><rect x="695" y="162" width="1" height="4"/><rect x="718" y="200" width="1" height="12"/><rect x="722" y="197" width="1" height="1"/><rect x="729" y="195" width="1" height="9"/><rect x="732" y="175" width="1" height="18"/><rect x="742" y="165" width="1" height="12"/><rect x="745" y="162" width="1" height="2"/><rect x="749" y="149" width="1" height="10"/><rect x="752" y="125" width="1" height="22"/><rect x="762" y="171" width="1" height="1"/><rect x="776" y="200" width="1" height="5"/><rect x="782" y="177" width="1" height="38"/><rect x="796" y="227" width="1" height="14"/><rect x="799" y="218" width="1" height="7"/><rect x="809" y="250" width="1" height="6"/><rect x="812" y="247" width="1" height="1"/><rect x="819" y="226" width="1" height="21"/><rect x="823" y="220" width="1" height="4"/><rect x="829" y="225" width="1" height="9"/><rect x="836" y="227" width="1" height="8"/><rect x="839" y="222" width="1" height="3"/><rect x="846" y="207" width="1" height="16"/><rect x="849" y="200" width="1" height="5"/><rect x="853" y="185" width="1" height="13"/><rect x="866" y="179" width="1" height="10"/><rect x="873" y="172" width="1" height="16"/><rect x="880" y="188" width="1" height="1"/><rect x="893" y="207" width="1" height="12"/><rect x="900" y="244" width="1" height="1"/><rect x="906" y="231" width="1" height="11"/><rect x="910" y="201" width="1" height="29"/><rect x="913" y="198" width="1" height="1"/><rect x="917" y="173" width="1" height="23"/><rect x="920" y="145" width="1" height="26"/><rect x="923" y="129" width="1" height="14"/><rect x="930" y="127" width="1" height="5"/><rect x="933" y="106" width="1" height="20"/><rect x="940" y="126" width="1" height="5"/><rect x="953" y="195" width="1" height="38"/><rect x="957" y="188" width="1" height="5"/><rect x="977" y="249" width="1" height="13"/><rect x="980" y="229" width="1" height="18"/><rect x="990" y="243" width="1" height="14"/><rect x="994" y="231" width="1" height="10"/><rect x="997" y="226" width="1" height="3"/><rect x="1000" y="209" width="1" height="16"/><rect x="1004" y="199" width="1" height="8"/><rect x="1017" y="245" width="1" height="14"/><rect x="1021" y="235" width="1" height="8"/><rect x="1034" y="295" width="1" height="27"/><rect x="1041" y="294" width="1" height="21"/><rect x="1047" y="287" width="1" height="18"/><rect x="1051" y="277" width="1" height="8"/><rect x="1068" y="368" width="1" height="2"/>
</g>
<g fill="#000">
<rect x="1095" y="51.5" width="1.6" height="543"/>
<path d="M1096 59.9L1103.8 62.5L1096 65.1Z"/><path d="M1096 147.9L1103.8 150.5L1096 153.1Z"/><path d="M1096 235.9L1103.8 238.5L1096 241.1Z"/><path d="M1096 322.9L1103.8 325.5L1096 328.1Z"/><path d="M1096 410.9L1103.8 413.5L1096 416.1Z"/><path d="M1096 498.9L1103.8 501.5L1096 504.1Z"/><path d="M1096 586.9L1103.8 589.5L1096 592.1Z"/>
<g shape-rendering="crispEdges"><rect x="1096" y="106" width="4" height="1"/><rect x="1096" y="194" width="4" height="1"/><rect x="1096" y="282" width="4" height="1"/><rect x="1096" y="369" width="4" height="1"/><rect x="1096" y="457" width="4" height="1"/><rect x="1096" y="545" width="4" height="1"/></g>
</g>
<g font-size="21.5" letter-spacing="-0.35">
<text x="1105" y="73">0.13M</text>
<text x="1105" y="158">0.12M</text>
<text x="1105" y="246">0.11M</text>
<text x="1105" y="333">0.1M</text>
<text x="1105" y="421">90000</text>
<text x="1105" y="509">80000</text>
<text x="1105" y="590">70000</text>
<text x="228" y="617">Mar</text>
<text x="538" y="617" letter-spacing="1.3">Jun</text>
<text x="524" y="642">2025</text>
<text x="845" y="617">Sep</text>
</g>
<text font-size="26.5" word-spacing="1.3" transform="translate(1175.3,194.7) rotate(90)"><tspan letter-spacing="-0.65">US</tspan> <tspan dx="-1.3" letter-spacing="0.37">dollars</tspan> per bitcoin</text>
<g>
<path d="M1180.5 649.4H1194.3Q1195.8 649.4 1195.8 650.9V664.7Q1195.8 666.2 1194.3 666.2H1190.1L1187.3 669.9L1184.5 666.2H1180.5Q1179 666.2 1179 664.7V650.9Q1179 649.4 1180.5 649.4Z" fill="#000"/>
<rect x="1181.1" y="659.4" width="1.7" height="3.6" fill="#ddd"/><rect x="1184.7" y="656.3" width="1.7" height="6.7" fill="#fff"/><rect x="1188.2" y="654.1" width="1.7" height="8.9" fill="#fff"/><rect x="1191.7" y="659.4" width="1.6" height="3.6" fill="#ddd"/>
</g>
</svg>
<h1 id="title"><span style="left:0.02px;transform:scaleX(0.9922)">Bitcoin</span> <span style="left:146.66px;transform:scaleX(0.9455)">Erases</span> <span style="left:282.03px;transform:scaleX(1.0857)">2025</span> <span style="left:402.34px;transform:scaleX(0.9631)">Gain</span> <span style="left:501.59px;transform:scaleX(0.9073)">as</span> <span style="left:556.28px;transform:scaleX(1.0082)">Selloff</span> <span style="left:695.51px;transform:scaleX(0.9288)">Deepens</span></h1>
<div id="source">Source: Bloomberg</div>
<div id="brand">Bloomberg</div>
</body></html>
